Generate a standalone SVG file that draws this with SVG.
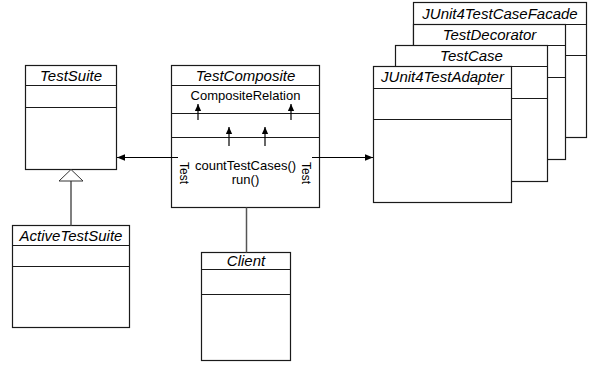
<svg xmlns="http://www.w3.org/2000/svg" width="589" height="365" viewBox="0 0 589 365">
<style>
.box{fill:#fff;stroke:#1a1a1a;stroke-width:1.2}
.sep{stroke:#1a1a1a;stroke-width:1.2}
.title{font-family:"Liberation Sans",Arial,sans-serif;font-style:italic;font-size:15px;fill:#000;text-anchor:middle}
.txt{font-family:"Liberation Sans",Arial,sans-serif;font-size:13px;fill:#000;text-anchor:middle}
.rot{font-family:"Liberation Sans",Arial,sans-serif;font-size:12px;fill:#000}
.ln{stroke:#000;stroke-width:1.2;fill:none}
.gl{stroke:#555;stroke-width:1.5;fill:none}
</style>
<defs>
<marker id="arr" viewBox="0 0 10 10" refX="10" refY="5" markerWidth="8" markerHeight="8" markerUnits="userSpaceOnUse" orient="auto">
<path d="M0,1 L10,5 L0,9 Z" fill="#000"/>
</marker>
<marker id="sarr" viewBox="0 0 10 10" refX="10" refY="5" markerWidth="7" markerHeight="7" markerUnits="userSpaceOnUse" orient="auto">
<path d="M0,0.5 L10,5 L0,9.5 Z" fill="#000"/>
</marker>
</defs>

<g id="JUnit4TestCaseFacade">
<rect class="box" x="413.5" y="2.5" width="173" height="135"/>
<line class="sep" x1="413.5" y1="24.5" x2="586.5" y2="24.5"/>
<line class="sep" x1="413.5" y1="55.5" x2="586.5" y2="55.5"/>
<text class="title" x="500" y="19">JUnit4TestCaseFacade</text>
</g>
<g id="TestDecorator">
<rect class="box" x="413.5" y="24.5" width="152" height="135"/>
<line class="sep" x1="413.5" y1="45.5" x2="565.5" y2="45.5"/>
<line class="sep" x1="413.5" y1="77.5" x2="565.5" y2="77.5"/>
<text class="title" x="489.5" y="40">TestDecorator</text>
</g>
<g id="TestCase">
<rect class="box" x="395.5" y="45.5" width="152" height="136"/>
<line class="sep" x1="395.5" y1="66.5" x2="547.5" y2="66.5"/>
<line class="sep" x1="395.5" y1="98.5" x2="547.5" y2="98.5"/>
<text class="title" x="471.5" y="61">TestCase</text>
</g>
<g id="JUnit4TestAdapter">
<rect class="box" x="373.5" y="66.5" width="138" height="136"/>
<line class="sep" x1="373.5" y1="88.5" x2="511.5" y2="88.5"/>
<line class="sep" x1="373.5" y1="119.5" x2="511.5" y2="119.5"/>
<text class="title" x="442.5" y="82">JUnit4TestAdapter</text>
</g>

<g id="TestSuite">
<rect class="box" x="25.5" y="65.5" width="91" height="104"/>
<line class="sep" x1="25.5" y1="85.5" x2="116.5" y2="85.5"/>
<line class="sep" x1="25.5" y1="107.5" x2="116.5" y2="107.5"/>
<text class="title" x="71" y="81">TestSuite</text>
</g>

<g id="ActiveTestSuite">
<rect class="box" x="12.5" y="225.5" width="117" height="102"/>
<line class="sep" x1="12.5" y1="245.5" x2="129.5" y2="245.5"/>
<line class="sep" x1="12.5" y1="266.5" x2="129.5" y2="266.5"/>
<text class="title" x="71" y="241">ActiveTestSuite</text>
</g>

<g id="TestComposite">
<rect class="box" x="171.5" y="65.5" width="148" height="142"/>
<line class="sep" x1="171.5" y1="85.5" x2="319.5" y2="85.5"/>
<line class="sep" x1="171.5" y1="113.5" x2="319.5" y2="113.5"/>
<line class="sep" x1="171.5" y1="137.5" x2="319.5" y2="137.5"/>
<text class="title" x="245.5" y="81">TestComposite</text>
<text class="txt" x="245.5" y="100">CompositeRelation</text>
<text class="txt" x="245.5" y="170">countTestCases()</text>
<text class="txt" x="245.5" y="184">run()</text>
<text class="rot" transform="translate(180,162) rotate(90)">Test</text>
<text class="rot" transform="translate(302,162) rotate(90)">Test</text>
<line class="ln" x1="198" y1="120" x2="198" y2="104" marker-end="url(#sarr)"/>
<line class="ln" x1="291" y1="120" x2="291" y2="104" marker-end="url(#sarr)"/>
<line class="ln" x1="229" y1="146" x2="229" y2="127" marker-end="url(#sarr)"/>
<line class="ln" x1="265" y1="146" x2="265" y2="127" marker-end="url(#sarr)"/>
</g>

<g id="Client">
<rect class="box" x="201.5" y="252.5" width="89" height="108"/>
<line class="sep" x1="201.5" y1="269.5" x2="290.5" y2="269.5"/>
<line class="sep" x1="201.5" y1="294.5" x2="290.5" y2="294.5"/>
<text class="title" x="246" y="266">Client</text>
</g>

<g id="connectors">
<line class="ln" x1="178" y1="157.5" x2="117" y2="157.5" marker-end="url(#arr)"/>
<line class="ln" x1="312" y1="157.5" x2="373" y2="157.5" marker-end="url(#arr)"/>
<line class="gl" x1="246.5" y1="207.5" x2="246.5" y2="252.5"/>
<line class="gl" x1="71" y1="181" x2="71" y2="225.5"/>
<path d="M71,169.5 L59,181 L83,181 Z" fill="#fff" stroke="#333" stroke-width="1"/>
</g>
</svg>
